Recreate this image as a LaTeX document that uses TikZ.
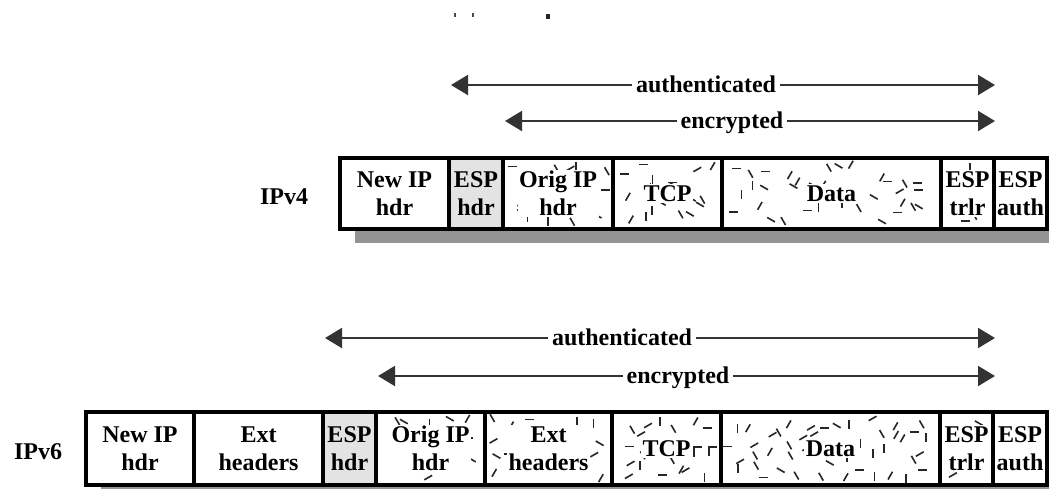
\documentclass[tikz,border=0pt]{standalone}
\usepackage{fontspec}
\setmainfont{Liberation Serif}
\usetikzlibrary{arrows.meta}

% one packet field: empty framed node, named, given by its pixel edges
\newcommand{\pcell}[6]{% name, left, right, top, bottom, extra style
  \pgfmathsetmacro{\cellw}{#3-#2}%
  \pgfmathsetmacro{\cellh}{#5-#4}%
  \node[cellbox,#6,minimum width=\cellw pt,minimum height=\cellh pt,anchor=north west] (#1) at (#2,#4) {};%
}
% scattered short strokes marking the encrypted fields
\newcommand{\speckle}[4]{% left, top, right, bottom
  \pgfmathtruncatemacro{\ncols}{max(1,round((#3-#1-12)/17))}%
  \pgfmathtruncatemacro{\nrows}{max(1,round((#4-#2-12)/17))}%
  \pgfmathsetmacro{\stepx}{(#3-#1-12)/\ncols}%
  \pgfmathsetmacro{\stepy}{(#4-#2-12)/\nrows}%
  \foreach \i in {1,...,\ncols}{%
    \foreach \j in {1,...,\nrows}{%
      \pgfmathsetmacro{\px}{#1+6+(\i-1+rnd)*\stepx}%
      \pgfmathsetmacro{\py}{#2+6+(\j-1+rnd)*\stepy}%
      \pgfmathsetmacro{\ang}{30*random(0,5)}%
      \draw[speck] (\px,\py) ++(\ang:-4.5) -- ++(\ang:9);
    }%
  }%
}

\pgfmathsetseed{4127}

\begin{document}
\begin{tikzpicture}[x=1pt,y=-1pt,
  cellbox/.style={draw=black,line width=3.5pt,inner sep=0pt,outer sep=0pt},
  espfill/.style={fill=black!11},
  speck/.style={line width=1.6pt,black!85},
  shade/.style={fill=black!42},
  fieldtext/.style={font=\fontsize{24}{28}\selectfont\bfseries,align=center,inner sep=1.5pt,text=black},
  clear/.style={fill=white},
  rowname/.style={font=\fontsize{24}{28}\selectfont\bfseries,text=black},
  span/.style={line width=2pt,black!80,{Triangle[length=17pt,width=20pt]}-{Triangle[length=17pt,width=20pt]}},
  spantext/.style={font=\fontsize{24}{28}\selectfont\bfseries,fill=white,inner xsep=4pt,inner ysep=1pt,text depth=0pt,text=black}]

\useasboundingbox (0,0) rectangle (1049,488);

% remnants of a caption line cut off at the top edge
\fill[black!70] (454,13) rectangle (456,17);
\fill[black!70] (472,13) rectangle (474,17);
\fill[black!85] (546,14) rectangle (550,19);

% ---------------- IPv4 ----------------
\fill[shade] (355,229) rectangle (1049,243);
\pcell{v4new}{340}{449}{158}{229}{fill=white}
\pcell{v4esph}{449}{503}{158}{229}{espfill}
\pcell{v4orig}{503}{613}{158}{229}{fill=white}
\pcell{v4tcp}{613}{722}{158}{229}{fill=white}
\pcell{v4data}{722}{941}{158}{229}{fill=white}
\pcell{v4trlr}{941}{994}{158}{229}{fill=white}
\pcell{v4auth}{994}{1047}{158}{229}{fill=white}

\speckle{503}{158}{613}{229}
\speckle{613}{158}{722}{229}
\speckle{722}{158}{941}{229}
\speckle{941}{158}{994}{229}

\node[fieldtext] (t4new) at (v4new.center) {New IP\\hdr};
\node[fieldtext] (t4esph) at (v4esph.center) {ESP\\hdr};
\node[fieldtext,clear] (t4orig) at (v4orig.center) {Orig IP\\hdr};
\node[fieldtext,clear] (t4tcp) at (v4tcp.center) {TCP};
\node[fieldtext,clear] (t4data) at (v4data.center) {Data};
\node[fieldtext,clear] (t4trlr) at (v4trlr.center) {ESP\\trlr};
\node[fieldtext] (t4auth) at (v4auth.center) {ESP\\auth};
\node[rowname] (l4) at (284,197) {IPv4};

\coordinate (a4l) at (451,85);
\coordinate (a4r) at (995,85);
\draw[span] (a4l) -- (a4r);
\node[spantext] (a4t) at (706,84) {authenticated};
\coordinate (e4l) at (505,121);
\coordinate (e4r) at (995,121);
\draw[span] (e4l) -- (e4r);
\node[spantext] (e4t) at (732,120) {encrypted};

% ---------------- IPv6 ----------------
\fill[shade] (101,485) rectangle (1049,499);
\pcell{v6new}{86}{194}{412}{485}{fill=white}
\pcell{v6ext}{194}{323}{412}{485}{fill=white}
\pcell{v6esph}{323}{376}{412}{485}{espfill}
\pcell{v6orig}{376}{485}{412}{485}{fill=white}
\pcell{v6ext2}{485}{612}{412}{485}{fill=white}
\pcell{v6tcp}{612}{721}{412}{485}{fill=white}
\pcell{v6data}{721}{940}{412}{485}{fill=white}
\pcell{v6trlr}{940}{993}{412}{485}{fill=white}
\pcell{v6auth}{993}{1047}{412}{485}{fill=white}

\speckle{376}{412}{485}{485}
\speckle{485}{412}{612}{485}
\speckle{612}{412}{721}{485}
\speckle{721}{412}{940}{485}
\speckle{940}{412}{993}{485}

\node[fieldtext] (t6new) at (v6new.center) {New IP\\hdr};
\node[fieldtext] (t6ext) at (v6ext.center) {Ext\\headers};
\node[fieldtext] (t6esph) at (v6esph.center) {ESP\\hdr};
\node[fieldtext,clear] (t6orig) at (v6orig.center) {Orig IP\\hdr};
\node[fieldtext,clear] (t6ext2) at (v6ext2.center) {Ext\\headers};
\node[fieldtext,clear] (t6tcp) at (v6tcp.center) {TCP};
\node[fieldtext,clear] (t6data) at (v6data.center) {Data};
\node[fieldtext,clear] (t6trlr) at (v6trlr.center) {ESP\\trlr};
\node[fieldtext] (t6auth) at (v6auth.center) {ESP\\auth};
\node[rowname] (l6) at (38,452) {IPv6};

\coordinate (a6l) at (325,338);
\coordinate (a6r) at (995,338);
\draw[span] (a6l) -- (a6r);
\node[spantext] (a6t) at (622,337) {authenticated};
\coordinate (e6l) at (378,376);
\coordinate (e6r) at (995,376);
\draw[span] (e6l) -- (e6r);
\node[spantext] (e6t) at (678,375) {encrypted};

\end{tikzpicture}
\end{document}
